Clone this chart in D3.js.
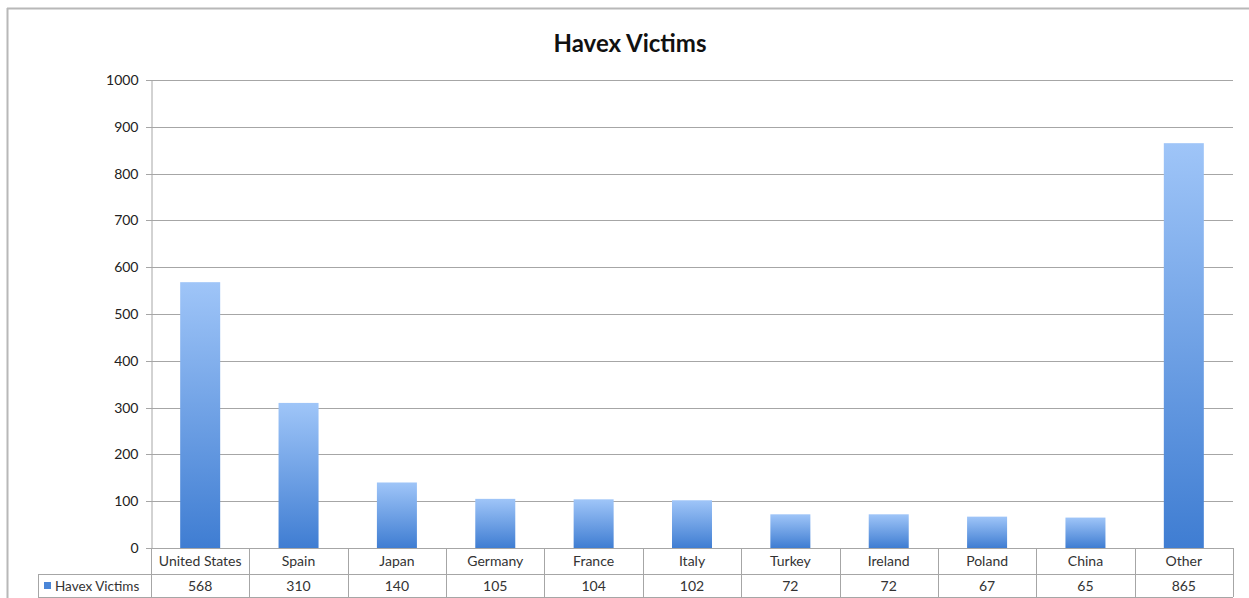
<!DOCTYPE html>
<html><head><meta charset="utf-8">
<script src="https://cdn.jsdelivr.net/npm/d3@7"></script>
<style>body{margin:0;background:#fff;} svg{display:block;font-family:Lato,"Open Sans",sans-serif;}</style>
</head><body>
<svg id="c" width="1249" height="598"></svg>
<script>
const title = "Havex Victims";
const seriesName = "Havex Victims";
const categories = ["United States","Spain","Japan","Germany","France","Italy","Turkey","Ireland","Poland","China","Other"];
const values = [568,310,140,105,104,102,72,72,67,65,865];
const yTicks = [0,100,200,300,400,500,600,700,800,900,1000];

(function(){
const svg = d3.select("#c");
const pLeft = 151, pRight = 1233, pTop = 80, pBottom = 548;
const rowH1 = 26, rowH2 = 23, legendLeft = 38;

svg.append("line").attr("x1",7).attr("x2",1249).attr("y1",8.5).attr("y2",8.5).attr("stroke","#b8b8b8").attr("stroke-width",2);
svg.append("line").attr("x1",7.5).attr("x2",7.5).attr("y1",8).attr("y2",598).attr("stroke","#b8b8b8").attr("stroke-width",2);

svg.append("text").attr("x",630).attr("y",52).attr("text-anchor","middle")
  .attr("font-size",24).attr("font-weight","bold").attr("fill","#111").text(title);

const x = d3.scaleBand().domain(categories).range([pLeft,pRight]).paddingInner(0).paddingOuter(0);
const y = d3.scaleLinear().domain([0,1000]).range([pBottom,pTop]);

svg.append("g").selectAll("line").data(yTicks).join("line")
  .attr("x1",pLeft-5).attr("x2",pRight).attr("y1",d=>Math.round(y(d))+0.5).attr("y2",d=>Math.round(y(d))+0.5)
  .attr("stroke","#a6a6a6").attr("stroke-width",1.2);

const yAxis = d3.axisLeft(y).tickValues(yTicks).tickFormat(d3.format("d")).tickSize(5).tickPadding(8);
const ga = svg.append("g").attr("transform",`translate(${pLeft+0.5},0)`).call(yAxis);
ga.select(".domain").attr("stroke","#a6a6a6");
ga.selectAll(".tick line").attr("stroke","#a6a6a6");
ga.selectAll(".tick text").attr("font-size",14).attr("fill","#222").attr("font-family","Lato,'Open Sans',sans-serif");
ga.selectAll(".tick").attr("transform",d=>`translate(0,${Math.round(y(d))+0.5})`);

const defs = svg.append("defs");
const grad = defs.append("linearGradient").attr("id","bg").attr("x1",0).attr("x2",0).attr("y1",0).attr("y2",1).attr("gradientUnits","objectBoundingBox");
grad.append("stop").attr("offset","0%").attr("stop-color","#9fc5f8");
grad.append("stop").attr("offset","100%").attr("stop-color","#3f7dd2");

const bw = 40;
svg.append("g").selectAll("rect").data(categories).join("rect")
  .attr("x",(d)=>x(d)+x.bandwidth()/2-bw/2)
  .attr("width",bw)
  .attr("y",(d,i)=>y(values[i]))
  .attr("height",(d,i)=>pBottom-y(values[i]))
  .attr("fill","url(#bg)");

const tg = svg.append("g");
const tStroke = "#a6a6a6";
tg.append("line").attr("x1",legendLeft).attr("x2",pRight).attr("y1",pBottom+rowH1+0.5).attr("y2",pBottom+rowH1+0.5).attr("stroke",tStroke);
tg.append("line").attr("x1",legendLeft).attr("x2",pRight).attr("y1",pBottom+rowH1+rowH2+0.5).attr("y2",pBottom+rowH1+rowH2+0.5).attr("stroke",tStroke);
tg.append("line").attr("x1",pLeft).attr("x2",pRight).attr("y1",pBottom+0.5).attr("y2",pBottom+0.5).attr("stroke",tStroke);
const xs = categories.map(c=>x(c)).concat([pRight]);
tg.selectAll(".v").data(xs).join("line")
  .attr("x1",d=>Math.round(d)+0.5).attr("x2",d=>Math.round(d)+0.5)
  .attr("y1",pBottom).attr("y2",pBottom+rowH1+rowH2).attr("stroke",tStroke);
tg.append("line").attr("x1",legendLeft+0.5).attr("x2",legendLeft+0.5).attr("y1",pBottom+rowH1).attr("y2",pBottom+rowH1+rowH2).attr("stroke",tStroke);

tg.selectAll(".cat").data(categories).join("text")
  .attr("x",d=>x(d)+x.bandwidth()/2).attr("y",pBottom+18).attr("text-anchor","middle")
  .attr("font-size",14).attr("fill","#333").text(d=>d);
tg.selectAll(".val").data(values).join("text")
  .attr("x",(d,i)=>x(categories[i])+x.bandwidth()/2).attr("y",pBottom+rowH1+17).attr("text-anchor","middle")
  .attr("font-size",14).attr("fill","#333").text(d=>d);

tg.append("rect").attr("x",legendLeft+6).attr("y",pBottom+rowH1+8).attr("width",7).attr("height",7).attr("fill","#4a86d8");
tg.append("text").attr("x",legendLeft+17).attr("y",pBottom+rowH1+17).attr("font-size",13.5).attr("fill","#333").text(seriesName);
})();
</script>
</body></html>
